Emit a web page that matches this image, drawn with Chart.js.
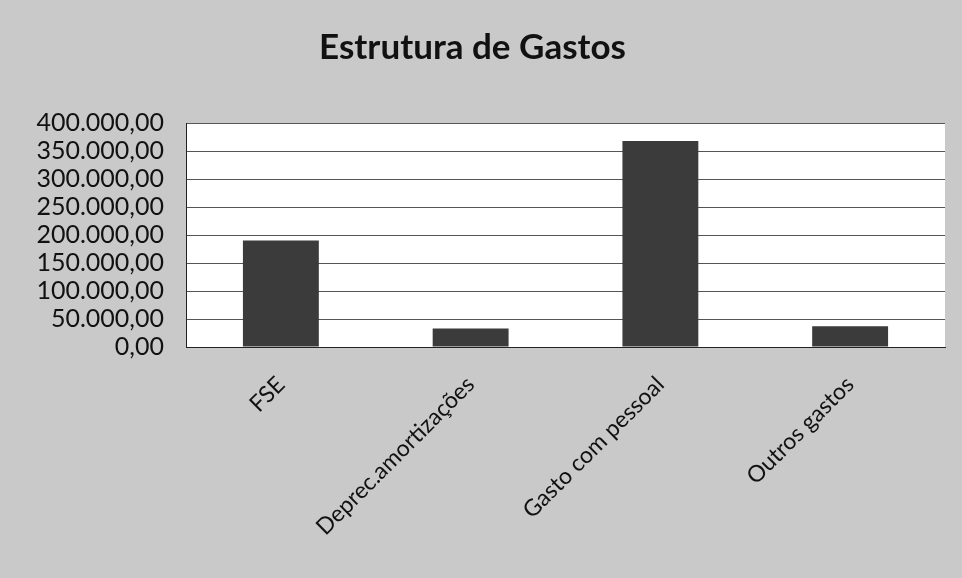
<!DOCTYPE html>
<html>
<head>
<meta charset="utf-8">
<script src="https://cdn.jsdelivr.net/npm/chart.js@4"></script>
<style>
  html, body { margin: 0; padding: 0; background: #c9c9c9; }
  #wrap { width: 962px; height: 578px; }
</style>
</head>
<body>
<div id="wrap"><canvas id="gastos" width="962" height="578"></canvas></div>
<script>
// Estrutura de Gastos
const categories = ["FSE", "Deprec.amortizações", "Gasto com pessoal", "Outros gastos"];
const gastos = [190000, 33000, 368000, 37000];
const yMax = 400000;
const yStep = 50000;

const FONT = "Lato, 'Open Sans', sans-serif";

// "400.000,00" style
function fmtPt(v) {
  const [i, d] = Math.abs(v).toFixed(2).split(".");
  return i.replace(/\B(?=(\d{3})+(?!\d))/g, ".") + "," + d;
}

const plotBg = {
  id: "plotBg",
  beforeDraw(chart) {
    const { ctx, chartArea: a } = chart;
    ctx.save();
    ctx.fillStyle = "#ffffff";
    ctx.fillRect(a.left, a.top, a.right - a.left, a.bottom - a.top);
    ctx.restore();
  },
};

new Chart(document.getElementById("gastos"), {
  type: "bar",
  data: {
    labels: categories,
    datasets: [{ data: gastos, backgroundColor: "#3b3b3b", borderWidth: 0, barPercentage: 0.4, categoryPercentage: 1 }],
  },
  options: {
    responsive: false, animation: false,
    layout: { padding: { left: 0, right: 17, top: 0, bottom: 0 } },
    plugins: {
      legend: { display: false },
      tooltip: { enabled: false },
      title: {
        display: true, text: "Estrutura de Gastos", color: "#111",
        font: { family: FONT, size: 35, weight: "bold" },
        padding: { top: 27, bottom: 54 },
      },
    },
    scales: {
      x: {
        grid: { display: false, drawTicks: false },
        border: { color: "#222", width: 1 },
        ticks: { color: "#111", font: { family: FONT, size: 23 }, minRotation: 45, maxRotation: 45, padding: 24, autoSkip: false },
        afterFit(s) { s.height = 231; },
      },
      y: {
        min: 0, max: yMax,
        grid: { color: "#555", lineWidth: 1, drawTicks: false },
        border: { color: "#222", width: 1 },
        ticks: { stepSize: yStep, color: "#111", font: { family: FONT, size: 25 }, padding: 22, autoSkip: false, callback: (v) => fmtPt(v) },
        afterFit(s) { s.width = 186; },
      },
    },
  },
  plugins: [plotBg],
});
</script>
</body>
</html>
